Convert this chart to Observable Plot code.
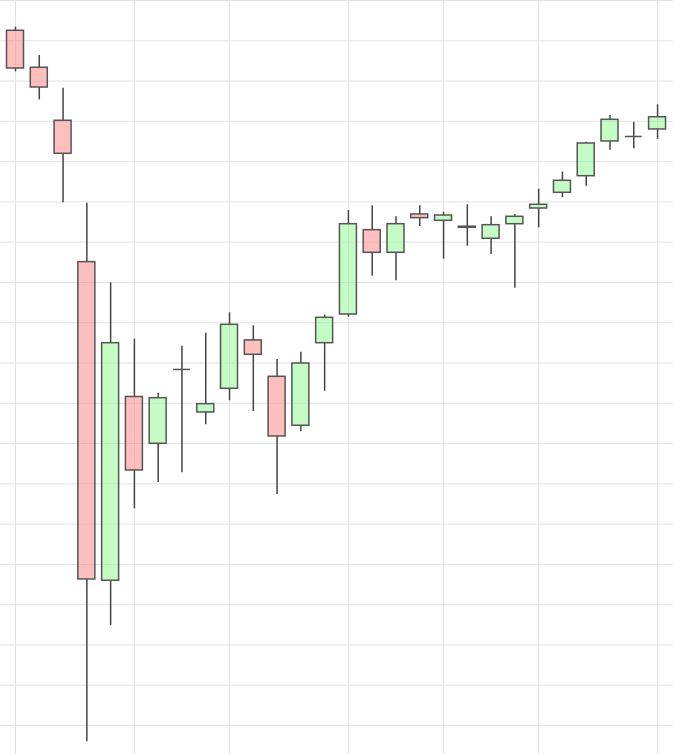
<!DOCTYPE html>
<html>
<head>
<meta charset="utf-8">
<script src="https://cdn.jsdelivr.net/npm/d3@7"></script>
<script src="https://cdn.jsdelivr.net/npm/@observablehq/plot@0.6"></script>
<style>
  html, body { margin: 0; padding: 0; background: #fff; }
  #chart svg { display: block; }
</style>
</head>
<body>
<div id="chart"></div>
<script>
// Session index (trading days)
const sessions = d3.range(28);
// OHLC values
const open  = [196.24,191.65,185.07,167.52,127.97,150.78,144.97,154.20,148.86,151.80,157.80,153.29,147.21,157.46,161.02,171.49,168.68,173.44,172.65,171.92,170.42,172.23,174.18,176.13,178.19,182.50,183.12,183.99];
const high  = [196.69,193.17,189.11,174.83,164.96,157.96,151.25,157.09,158.70,161.23,159.62,155.44,156.34,160.94,173.93,174.52,173.15,174.52,173.72,174.64,173.15,173.44,176.58,178.69,182.41,185.72,184.89,187.05];
const low   = [191.15,187.67,174.89,107.98,122.42,136.90,140.17,141.37,147.33,150.31,148.98,138.68,146.46,151.50,160.69,165.78,165.21,171.95,167.89,169.50,168.47,164.29,171.79,175.51,176.95,181.42,181.59,182.75];
const close = [191.56,189.20,180.97,128.13,157.46,141.66,150.63,154.20,149.89,159.74,156.02,145.88,154.94,160.61,172.23,168.68,172.23,172.98,173.31,171.78,172.11,173.15,174.64,177.62,182.25,185.19,183.12,185.51];
// Week-start sessions carrying vertical grid lines
const weekTicks = [0, 5, 9, 14, 18, 22, 27];
// Horizontal grid values
const priceTicks = d3.range(110, 201, 5);

const data = sessions.map((i) => ({
  i, open: open[i], high: high[i], low: low[i], close: close[i],
  top: Math.max(open[i], close[i]), bottom: Math.min(open[i], close[i])
}));
const bodies = data.filter((d) => d.open !== d.close);
const dojis = data.filter((d) => d.open === d.close);

const half = 0.357;
const chart = Plot.plot({
  width: 673,
  height: 754,
  marginTop: 0, marginBottom: 0, marginLeft: 0, marginRight: 0,
  x: {domain: [-0.631, 27.67], axis: null},
  y: {domain: [106.4, 200], axis: null},
  marks: [
    Plot.ruleY(priceTicks, {stroke: "#e2e2e2", strokeWidth: 1}),
    Plot.ruleX(weekTicks, {stroke: "#e2e2e2", strokeWidth: 1}),
    Plot.ruleX(data, {x: "i", y1: "top", y2: "high", stroke: "#444", strokeWidth: 1.5}),
    Plot.ruleX(data, {x: "i", y1: "low", y2: "bottom", stroke: "#444", strokeWidth: 1.5}),
    Plot.rect(bodies, {
      x1: (d) => d.i - half,
      x2: (d) => d.i + half,
      y1: "open",
      y2: "close",
      fill: (d) => d.close > d.open ? "#8cf98c" : "#ff8080",
      fillOpacity: 0.5,
      stroke: "#555",
      strokeWidth: 1.5
    }),
    Plot.ruleY(dojis, {
      y: "open",
      x1: (d) => d.i - half,
      x2: (d) => d.i + half,
      stroke: "#555",
      strokeWidth: 1.5
    })
  ]
});
document.getElementById("chart").append(chart);
</script>
</body>
</html>
